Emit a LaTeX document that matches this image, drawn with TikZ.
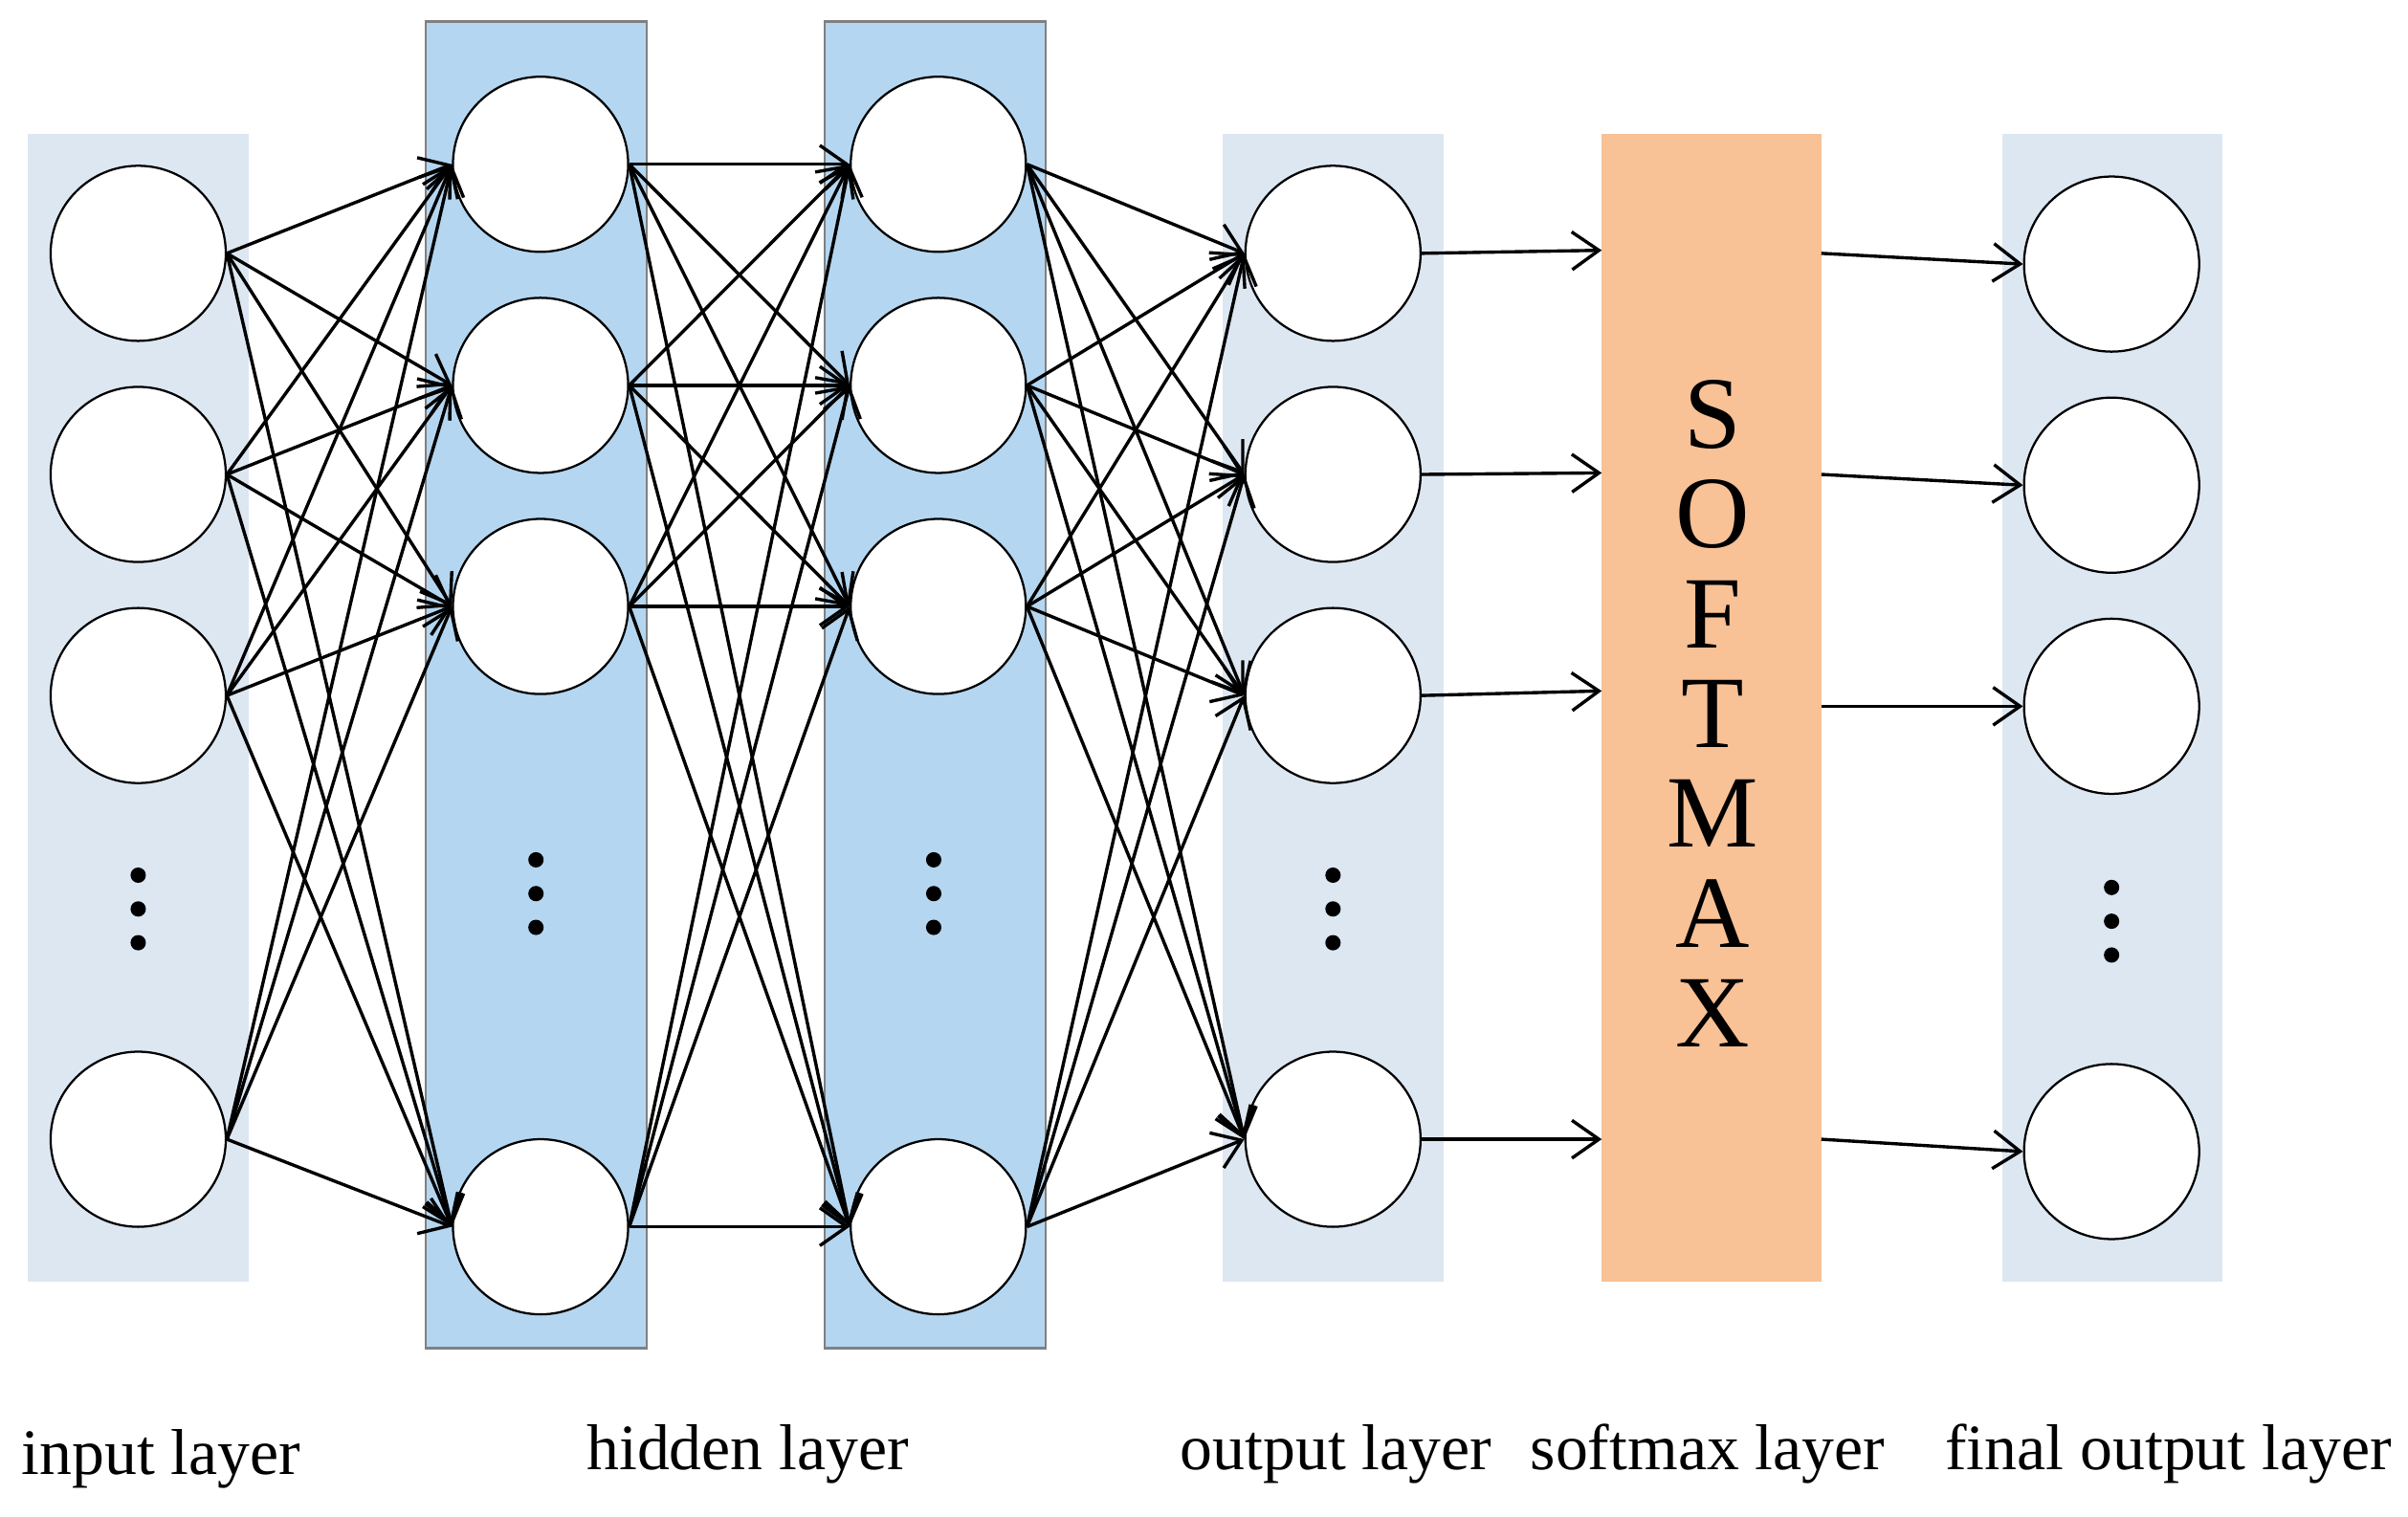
\documentclass[tikz,border=0pt]{standalone}
\usepackage{fontspec}
\setmainfont{Liberation Serif}
\usetikzlibrary{arrows.meta}
\definecolor{paleblue}{RGB}{221,231,242}
\definecolor{hidblue}{RGB}{180,214,240}
\definecolor{softorange}{RGB}{248,193,150}
\begin{document}
\begin{tikzpicture}[
	>={Straight Barb[length=5pt,width=7pt]},
	x=0.01cm, y=-0.01cm,
	neuron/.style={circle, draw, thin, fill=white, minimum size=1.14cm, inner sep=0pt},
	conn/.style={->, line width=0.6pt},
	font=\fontsize{12}{12}\selectfont
	]
\useasboundingbox (0,0) rectangle (1568,988);

% layer backgrounds
\fill[paleblue] (18,87) rectangle (162,835);
\draw[gray, fill=hidblue] (277,14) rectangle (421,878);
\draw[gray, fill=hidblue] (537,14) rectangle (681,878);
\fill[paleblue] (796,87) rectangle (940,835);
\fill[softorange] (1043,87) rectangle (1186,835);
\fill[paleblue] (1304,87) rectangle (1447,835);

% neurons
\foreach \i/\y in {1/165,2/309,3/453,4/742} {
	\node[neuron] (in\i) at (90,\y) {};
	\node[neuron] (out\i) at (868,\y) {};
}
\foreach \i/\y in {1/107,2/251,3/395,4/799} {
	\node[neuron] (ha\i) at (352,\y) {};
	\node[neuron] (hb\i) at (611,\y) {};
}
\foreach \i/\y in {1/172,2/316,3/460,4/750}
	\node[neuron] (fin\i) at (1375,\y) {};

% dots
\foreach \x/\y in {90/570,349/560,608/560,868/570,1375/578}
	\foreach \d in {0,22,44}
		\fill (\x,\y+\d) circle (5);

% full connections
\foreach \i in {1,...,4}
	\foreach \j in {1,...,4} {
		\draw[conn] (in\i.east) -- (ha\j.west);
		\draw[conn] (ha\i.east) -- (hb\j.west);
		\draw[conn] (hb\i.east) -- (out\j.west);
	}

% softmax
\foreach \i/\y in {1/163,2/308,3/450,4/742} {
	\coordinate (sin\i) at (1043,\y);
	\draw[conn] (out\i.east) -- (sin\i);
}
\foreach \i/\y in {1/165,2/309,3/460,4/742} {
	\coordinate (sout\i) at (1186,\y);
	\draw[conn] (sout\i) -- (fin\i.west);
}
\foreach \c [count=\k] in {S,O,F,T,M,A,X}
	\node[font=\fontsize{19}{19}\selectfont] (let\k) at (1115,205+\k*65) {\c};

% labels
\node (lin) at (105,950) {input layer};
\node (lhid) at (487,947) {hidden layer};
\node (lout) at (870,947) {output layer};
\node (lsm) at (1112,947) {softmax layer};
\node (lfin) at (1412,947) {final output layer};
\end{tikzpicture}
\end{document}
